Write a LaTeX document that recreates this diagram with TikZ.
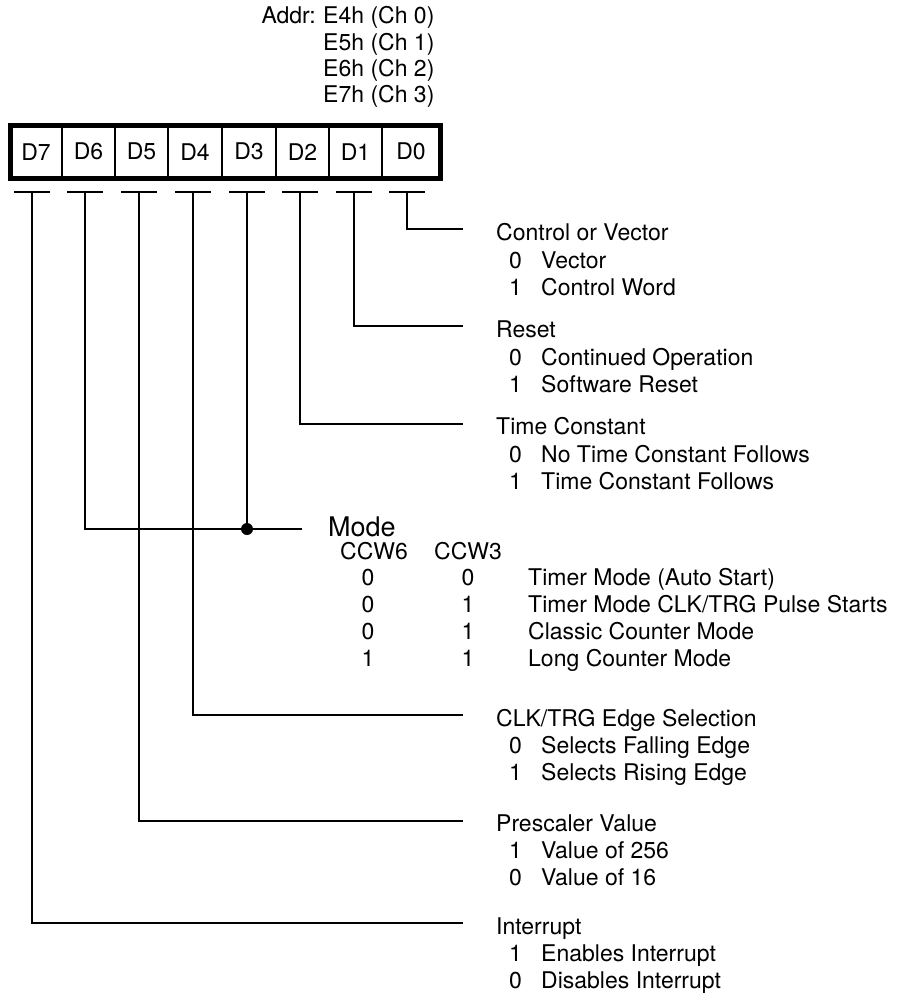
\documentclass[tikz,border=0pt]{standalone}
\usepackage{fontspec}
\setmainfont{TeX Gyre Heros}
\begin{document}
\begin{tikzpicture}[x=1pt,y=-1pt,
  txt/.style={anchor=base west, inner sep=0pt, font=\fontsize{23}{27}\selectfont},
  txtr/.style={anchor=base east, inner sep=0pt, font=\fontsize{23}{27}\selectfont},
  modetxt/.style={anchor=base west, inner sep=0pt, font=\fontsize{27}{32}\selectfont},
  digit/.style={anchor=base, inner sep=0pt, font=\fontsize{23}{27}\selectfont},
  cell/.style={draw, line width=2pt, minimum height=52.5pt, inner sep=0pt, outer sep=0pt, font=\fontsize{23}{27}\selectfont},
  conn/.style={line width=1.7pt},
  tickbar/.style={line width=2pt},
  ]
\useasboundingbox (0,0) rectangle (904,1004);
% address
\node[txtr] (addr) at (316,23.5) {Addr:};
\node[txt] (a0) at (323,23.5) {E4h (Ch 0)};
\node[txt] (a1) at (323,50.5) {E5h (Ch 1)};
\node[txt] (a2) at (323,76.5) {E6h (Ch 2)};
\node[txt] (a3) at (323,102) {E7h (Ch 3)};
% register cells
\node[cell, minimum width=52pt] (c7) at (36,151.75) {D7};
\node[cell, minimum width=53pt] (c6) at (88.5,151.75) {D6};
\node[cell, minimum width=53pt] (c5) at (141.5,151.75) {D5};
\node[cell, minimum width=54pt] (c4) at (195,151.75) {D4};
\node[cell, minimum width=54pt] (c3) at (249,151.75) {D3};
\node[cell, minimum width=53pt] (c2) at (302.5,151.75) {D2};
\node[cell, minimum width=53pt] (c1) at (355.5,151.75) {D1};
\node[cell, minimum width=58pt] (c0) at (411,151.75) {D0};
\draw[line width=5pt] (c7.north west) rectangle (c0.south east);
% tick points
\coordinate (t7) at (32,192);
\coordinate (t6) at (85,192);
\coordinate (t5) at (139,192);
\coordinate (t4) at (193,192);
\coordinate (t3) at (247,192);
\coordinate (t2) at (300,192);
\coordinate (t1) at (354,192);
\coordinate (t0) at (407,192);
\foreach \t in {t0,t1,t2,t3,t4,t5,t6,t7}
  \draw[tickbar] ([xshift=-18pt]\t) -- ([xshift=18pt]\t);
% line ends
\coordinate (e0) at (463,229);
\coordinate (e1) at (463,326);
\coordinate (e2) at (463,424);
\coordinate (em) at (302,529);
\coordinate (e4) at (463,715);
\coordinate (e5) at (463,821);
\coordinate (e7) at (463,923);
\coordinate (m) at (t3 |- em);
% connectors
\draw[conn] (t0) |- (e0);
\draw[conn] (t1) |- (e1);
\draw[conn] (t2) |- (e2);
\draw[conn] (t6) |- (em);
\draw[conn] (t3) -- (m);
\fill (m) circle (6pt);
\draw[conn] (t4) |- (e4);
\draw[conn] (t5) |- (e5);
\draw[conn] (t7) |- (e7);
% D0
\node[txt] (l0) at (496,240.5) {Control or Vector};
\node[txt] (l0a) at (509,268) {0};
\node[txt] (l0b) at (541,268) {Vector};
\node[txt] (l0c) at (509,295) {1};
\node[txt] (l0d) at (541,295) {Control Word};
% D1
\node[txt] (l1) at (496,337.5) {Reset};
\node[txt] (l1a) at (509,365) {0};
\node[txt] (l1b) at (541,365) {Continued Operation};
\node[txt] (l1c) at (509,392) {1};
\node[txt] (l1d) at (541,392) {Software Reset};
% D2
\node[txt] (l2) at (496,434.5) {Time Constant};
\node[txt] (l2a) at (509,462) {0};
\node[txt] (l2b) at (541,462) {No Time Constant Follows};
\node[txt] (l2c) at (509,489) {1};
\node[txt] (l2d) at (541,489) {Time Constant Follows};
% Mode
\node[modetxt] (lm) at (328,536) {Mode};
\node[txt] (ccw6) at (340,559) {CCW6};
\node[txt] (ccw3) at (434,559) {CCW3};
\node[digit] (r1a) at (368,585) {0};
\node[digit] (r1b) at (468,585) {0};
\node[txt] (r1c) at (528,585) {Timer Mode (Auto Start)};
\node[digit] (r2a) at (368,612) {0};
\node[digit] (r2b) at (468,612) {1};
\node[txt] (r2c) at (528,612) {Timer Mode CLK/TRG Pulse Starts};
\node[digit] (r3a) at (368,639) {0};
\node[digit] (r3b) at (468,639) {1};
\node[txt] (r3c) at (528,639) {Classic Counter Mode};
\node[digit] (r4a) at (368,666) {1};
\node[digit] (r4b) at (468,666) {1};
\node[txt] (r4c) at (528,666) {Long Counter Mode};
% D4
\node[txt] (l4) at (496,726) {CLK/TRG Edge Selection};
\node[txt] (l4a) at (509,753) {0};
\node[txt] (l4b) at (541,753) {Selects Falling Edge};
\node[txt] (l4c) at (509,780) {1};
\node[txt] (l4d) at (541,780) {Selects Rising Edge};
% D5
\node[txt] (l5) at (496,831) {Prescaler Value};
\node[txt] (l5a) at (509,858) {1};
\node[txt] (l5b) at (541,858) {Value of 256};
\node[txt] (l5c) at (509,885) {0};
\node[txt] (l5d) at (541,885) {Value of 16};
% D7
\node[txt] (l7) at (496,934) {Interrupt};
\node[txt] (l7a) at (509,961) {1};
\node[txt] (l7b) at (541,961) {Enables Interrupt};
\node[txt] (l7c) at (509,988) {0};
\node[txt] (l7d) at (541,988) {Disables Interrupt};
\end{tikzpicture}
\end{document}
